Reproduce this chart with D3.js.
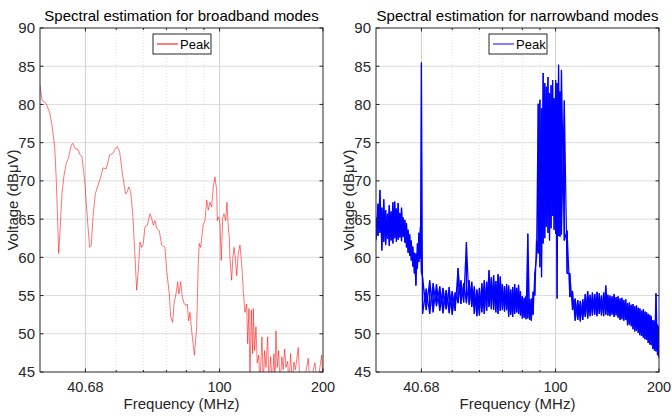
<!DOCTYPE html>
<html>
<head>
<meta charset="utf-8">
<script src="https://cdn.jsdelivr.net/npm/d3@7"></script>
<style>
  body { margin: 0; background: #fff; }
  svg { font-family: "Liberation Sans", Arial, Helvetica, sans-serif; }
</style>
</head>
<body>
<svg id="chart" width="672" height="416"></svg>
<script>
// axis settings
const yTicks = [45, 50, 55, 60, 65, 70, 75, 80, 85, 90];
const xTicks = [40.68, 100, 200];
const xMinor = [50, 60, 70, 80, 90];

// broadband spectrum (MHz, dBuV)
const bbFreq = [30.00,30.40,31.29,32.02,32.51,33.11,33.46,33.69,34.01,34.37,34.77,35.24,35.78,36.36,37.00,37.43,38.01,38.70,39.15,39.75,
  40.48,40.92,41.39,41.86,42.31,42.80,43.46,44.25,45.06,45.76,46.79,47.86,48.93,49.69,50.36,51.18,51.98,52.68,53.28,53.86,
  54.36,55.10,55.95,56.71,57.36,57.98,58.64,59.31,59.95,60.64,61.58,62.71,63.42,64.11,64.84,65.59,66.74,67.82,69.34,70.13,
  71.37,72.04,73.01,73.65,74.64,75.50,76.16,77.03,77.86,78.91,79.82,80.52,81.28,81.99,82.93,83.82,84.50,85.07,85.75,86.68,
  87.26,88.08,88.67,89.63,90.66,91.70,92.68,93.75,94.82,95.84,96.94,98.05,98.45,99.38,100.25,101.12,102.08,102.97,104.15,105.06,
  105.98,106.69,107.19,108.42,109.15,110.11,111.07,112.12,113.33,114.63,115.94,117.19,118.53,119.89,120.70,121.75,122.57,123.64,124.81,125.31,
  126.49,127.60,128.72,129.93,131.07,132.84,134.00,135.26,136.45,138.01,139.22,140.81,142.33,143.96,144.93,145.90,147.18,148.57,149.87,151.89,
  153.22,154.67,156.02,157.81,159.19,161.01,162.75,164.61,166.28,169.42,171.37,176.02,181.17,183.24,189.49,192.05,195.95,198.20,199.93];
const bbLevel = [82.5,80.6,80.1,78.9,77.3,74.4,70.1,66.2,60.5,64.0,68.4,70.7,72.3,73.1,74.7,74.9,74.2,74.1,73.5,73.1,
  70.1,67.0,64.0,61.3,61.6,65.3,68.3,69.4,70.5,71.7,71.6,73.4,73.6,74.2,74.5,73.8,71.4,69.6,68.3,68.6,
  69.2,68.6,65.3,60.0,55.7,58.3,62.0,61.3,61.8,64.0,64.2,65.7,65.1,64.2,64.8,63.8,63.5,61.6,61.3,58.3,
  55.2,52.2,51.5,53.9,55.2,56.8,55.2,56.8,54.8,53.9,53.7,53.9,51.7,52.8,50.4,48.5,47.2,49.0,50.8,59.2,
  61.8,61.3,62.5,64.3,64.8,67.5,66.2,67.2,66.6,69.2,70.5,68.8,64.8,65.3,64.4,59.6,65.1,65.7,64.8,67.2,
  64.0,62.7,59.8,57.0,59.6,61.3,60.0,57.6,60.5,61.6,59.2,55.7,52.8,53.9,48.7,53.3,43.5,53.1,47.4,53.3,
  47.8,50.9,46.2,47.2,43.5,49.6,43.5,47.8,45.6,49.6,43.5,47.0,43.5,47.4,43.5,50.4,45.6,47.8,43.5,47.0,
  45.3,48.0,45.6,46.4,43.5,47.4,43.5,46.3,45.3,48.2,43.5,43.5,46.8,43.5,46.2,43.5,45.6,47.2,43.5];

// narrowband spectrum: per frequency bin, lowest and highest level
const nbFreq = [30,30.4,30.8,31.2,31.6,32,32.4,32.8,33.2,33.6,34,34.4,34.8,35.2,35.6,36,36.4,36.8,37.2,37.6,38,38.4,38.8,39.2,39.6,40,40.4,40.68,
  41,42,43,44,45,46,47,48,49,50,51,52,53,54,55,56,57,58,59,60,61,62,63,64,65,66,67,68,69,70,
  71,72,73,74,75,76,77,78,79,80,81,82,83,84,85,86,87,88,89,90,91,92,93,94,95,96,97,98,99,100,101,102,103,104,
  106,108,110,112,114,116,118,120,122,124,126,128,130,132,134,136,138,140,142,144,146,148,150,152,154,156,158,160,
  162,164,166,168,170,172,174,176,178,180,182,184,186,188,190,192,194,196,198,200];
const nbHigh = [65.2,67.0,68.8,66.5,67.6,66.2,65.7,66.8,66.0,67.2,67.3,66.4,67.1,65.8,66.5,65.2,64.9,64.5,63.6,63.0,62.2,61.4,60.6,60.5,61.8,63.2,64.0,85.5,
  57.4,55.9,57.0,56.6,56.5,56.2,56.0,55.7,56.1,55.6,55.4,58.6,57.0,56.6,62.0,57.0,56.8,56.2,55.8,56.0,56.6,57.0,56.8,58.3,57.4,57.7,56.9,57.8,57.5,56.5,
  56.2,56.5,56.3,55.8,56.1,56.5,56.0,56.4,55.6,54.9,54.7,54.9,63.1,54.5,54.6,55.5,58.0,62.2,80.1,80.6,79.5,84.1,82.8,82.3,83.6,81.5,82.5,83.2,80.8,83.2,82.8,85.2,81.7,84.5,
  80.5,63.5,57.9,55.6,54.6,54.4,54.3,54.5,55.2,55.6,55.1,55.4,55.2,55.5,55.3,55.0,55.4,56.3,55.1,55.0,54.9,55.2,54.8,54.9,54.6,54.7,54.4,54.5,
  54.0,54.1,53.8,53.9,53.6,53.7,53.4,53.3,53.0,53.2,52.9,52.8,52.6,52.5,52.3,51.8,51.7,55.3,51.2,51.0];
const nbLow = [62.3,62.8,63.2,60.9,62.0,61.6,62.4,61.5,62.2,61.8,62.5,62.0,62.3,62.6,62.1,62.7,61.9,61.3,60.6,60.2,59.6,58.8,57.9,56.3,58.5,59.4,59.8,58.0,
  52.6,53.1,52.6,52.8,53.6,53.0,52.7,53.2,52.7,52.5,53.0,54.0,53.9,54.1,54.0,53.8,53.5,52.6,52.3,52.4,52.8,52.6,53.0,53.5,53.2,53.1,52.8,52.6,53.0,53.1,
  52.9,53.1,52.2,52.5,52.2,52.6,52.8,52.6,52.4,52.0,52.1,51.9,52.0,51.8,51.7,52.5,55.0,60.0,60.5,58.7,57.4,61.8,62.5,64.0,63.2,62.2,63.8,65.4,63.6,63.1,54.6,62.8,62.7,63.0,
  62.2,57.9,54.8,53.1,51.7,51.8,51.6,51.8,52.2,52.0,52.3,52.4,52.5,52.3,52.6,52.4,52.3,52.5,52.4,52.3,52.5,52.2,52.4,52.1,51.8,51.9,51.7,51.8,
  51.1,51.2,51.0,50.6,50.3,50.4,50.1,49.8,49.7,49.5,49.3,49.2,48.8,48.6,48.5,48.0,47.8,47.7,47.2,46.9];

const svg = d3.select("#chart");
const W = 283, H = 344, TOP = 28;
const axisColor = "#262626";

function drawPanel(left, id, title, color, drawData) {
  const g = svg.append("g").attr("transform", `translate(${left},${TOP})`);
  const x = d3.scaleLog().domain([30, 200]).range([0, W]);
  const y = d3.scaleLinear().domain([45, 90]).range([H, 0]);

  // grid
  g.append("g").selectAll("line")
    .data(yTicks.slice(1, -1))
    .join("line")
    .attr("x1", 0).attr("x2", W)
    .attr("y1", d => y(d)).attr("y2", d => y(d))
    .attr("stroke", "#dcdcdc");
  g.append("g").selectAll("line")
    .data(xMinor)
    .join("line")
    .attr("x1", d => x(d)).attr("x2", d => x(d))
    .attr("y1", 0).attr("y2", H)
    .attr("stroke", "#e2e2e2")
    .attr("stroke-dasharray", "1,2");
  g.append("g").selectAll("line")
    .data(xTicks.slice(0, -1))
    .join("line")
    .attr("x1", d => x(d)).attr("x2", d => x(d))
    .attr("y1", 0).attr("y2", H)
    .attr("stroke", "#d0d0d0");

  // clip for the trace
  svg.append("clipPath").attr("id", id)
    .append("rect").attr("width", W).attr("height", H);

  drawData(g.append("g").attr("clip-path", `url(#${id})`), x, y);

  // box
  g.append("rect")
    .attr("width", W).attr("height", H)
    .attr("fill", "none")
    .attr("stroke", axisColor);

  // ticks (inside, on all four sides)
  const tl = 3.5;
  const yt = g.append("g");
  yTicks.forEach(v => {
    yt.append("line").attr("x1", 0).attr("x2", tl).attr("y1", y(v)).attr("y2", y(v)).attr("stroke", axisColor);
    yt.append("line").attr("x1", W).attr("x2", W - tl).attr("y1", y(v)).attr("y2", y(v)).attr("stroke", axisColor);
  });
  xTicks.concat(xMinor).forEach(v => {
    const len = xTicks.includes(v) ? tl : 2;
    yt.append("line").attr("x1", x(v)).attr("x2", x(v)).attr("y1", H).attr("y2", H - len).attr("stroke", axisColor);
    yt.append("line").attr("x1", x(v)).attr("x2", x(v)).attr("y1", 0).attr("y2", len).attr("stroke", axisColor);
  });

  // tick labels
  g.append("g").selectAll("text")
    .data(yTicks)
    .join("text")
    .attr("x", -5).attr("y", d => y(d)).attr("dy", "0.36em")
    .attr("text-anchor", "end")
    .attr("font-size", 15)
    .attr("fill", axisColor)
    .text(d => d);
  g.append("g").selectAll("text")
    .data(xTicks)
    .join("text")
    .attr("x", d => x(d)).attr("y", H + 20)
    .attr("text-anchor", "middle")
    .attr("font-size", 14.5)
    .attr("fill", axisColor)
    .text(d => d);

  // titles and axis labels
  g.append("text")
    .attr("x", W / 2).attr("y", -7)
    .attr("text-anchor", "middle")
    .attr("font-size", 15)
    .attr("fill", "#000")
    .text(title);
  g.append("text")
    .attr("x", W / 2).attr("y", H + 37)
    .attr("text-anchor", "middle")
    .attr("font-size", 15)
    .attr("fill", axisColor)
    .text("Frequency (MHz)");
  g.append("text")
    .attr("transform", `translate(-22,${H / 2}) rotate(-90)`)
    .attr("text-anchor", "middle")
    .attr("font-size", 15)
    .attr("fill", axisColor)
    .text("Voltage (dBμV)");

  // legend
  const lg = g.append("g").attr("transform", "translate(113,6)");
  lg.append("rect").attr("width", 58).attr("height", 20)
    .attr("fill", "#fff").attr("stroke", axisColor);
  lg.append("line").attr("x1", 4).attr("x2", 25).attr("y1", 10).attr("y2", 10)
    .attr("stroke", color);
  lg.append("text").attr("x", 27).attr("y", 14.5)
    .attr("font-size", 13).attr("fill", "#000")
    .text("Peak");
}

// broadband panel
drawPanel(40, "clipL", "Spectral estimation for broadband modes", "#ff0000", (g, x, y) => {
  const pts = bbFreq.map((f, i) => [f, bbLevel[i]]);
  g.append("path")
    .datum(pts)
    .attr("fill", "none")
    .attr("stroke", "#ff0000")
    .attr("stroke-opacity", 0.55)
    .attr("stroke-width", 1)
    .attr("d", d3.line().x(d => x(d[0])).y(d => y(d[1])));
});

// narrowband panel: the trace swings between the low and high level of each bin
drawPanel(376, "clipR", "Spectral estimation for narrowband modes", "#0000ff", (g, x, y) => {
  const line = d3.line().x(d => x(d[0])).y(d => y(d[1]));
  const up = nbFreq.flatMap((f, i) => [[f, nbLow[i]], [f, nbHigh[i]]]);
  const down = nbFreq.flatMap((f, i) => [[f, nbHigh[i]], [f, nbLow[i]]]);
  g.selectAll("path")
    .data([up, down])
    .join("path")
    .attr("fill", "none")
    .attr("stroke", "#0000ff")
    .attr("stroke-width", 1.2)
    .attr("stroke-linejoin", "bevel")
    .attr("d", line);
});
</script>
</body>
</html>
